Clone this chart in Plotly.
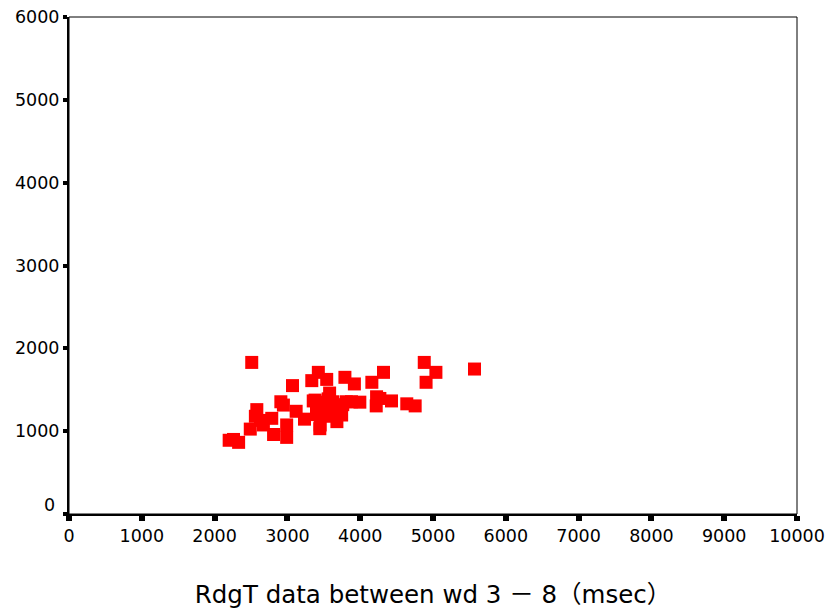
import plotly.graph_objects as go

rdgt_x = [2510, 2200, 2330, 2260, 2490, 2580, 2560, 2630, 2670, 2785, 2810, 2910, 2945,
          2990, 2990, 3070, 3120, 3235, 3335, 3425, 3540, 3790, 3920, 4160, 4320, 4880,
          5040, 4905, 5570, 3380, 3355, 3400, 3400, 3450, 3445, 3580, 3585, 3625, 3680,
          3745, 3810, 3995, 3520, 3560, 3700, 3480, 3650, 3550, 4225, 4270, 4220, 4430,
          4640, 4755, 3760, 3880]
val_y = [1830, 890, 865, 900, 1025, 1260, 1180, 1130, 1075, 1155, 960, 1355, 1315,
         1075, 925, 1550, 1240, 1145, 1610, 1710, 1625, 1650, 1570, 1590, 1710, 1830,
         1710, 1590, 1750, 1375, 1365, 1240, 1200, 1075, 1030, 1460, 1255, 1355, 1115,
         1195, 1355, 1350, 1300, 1390, 1280, 1350, 1230, 1180, 1415, 1395, 1305, 1365,
         1330, 1305, 1320, 1355]

x_ticks = [0, 1000, 2000, 3000, 4000, 5000, 6000, 7000, 8000, 9000, 10000]
y_ticks = [1000, 2000, 3000, 4000, 5000, 6000]
x_title = "RdgT data between wd 3 － 8（msec）"

fig = go.Figure()
fig.add_trace(go.Scatter(
    x=rdgt_x, y=val_y, mode="markers",
    marker=dict(symbol="square", size=13, color="#FF0000", line=dict(width=0)),
    showlegend=False, cliponaxis=False,
))

tick_font = dict(family="DejaVu Sans, sans-serif", size=17.5, color="black")

fig.update_xaxes(
    range=[0, 10000], tickvals=x_ticks, ticktext=[str(v) for v in x_ticks],
    showgrid=False, zeroline=False, showline=True, linecolor="black", linewidth=2,
    ticks="outside", ticklen=5, tickwidth=6, tickcolor="black", tickfont=tick_font,
    automargin=False,
    title=dict(text=x_title,
               font=dict(family="DejaVu Sans, Noto Sans CJK JP, sans-serif", size=24.5, color="black"),
               standoff=42),
)
fig.update_yaxes(
    range=[0, 6000], tickvals=[0] + y_ticks, ticktext=[""] + [str(v) for v in y_ticks],
    showgrid=False, zeroline=False, showline=True, linecolor="black", linewidth=2,
    ticks="outside", ticklen=4, tickwidth=4, tickcolor="black", tickfont=tick_font,
    automargin=False,
)

fig.add_annotation(x=0, y=0, xref="paper", yref="y", text="0", showarrow=False,
                   xanchor="right", yanchor="middle", xshift=-12, yshift=9, font=tick_font)

fig.add_shape(type="rect", xref="paper", yref="paper", x0=0, y0=0, x1=1, y1=1,
              line=dict(color="black", width=1), layer="above")

fig.update_layout(
    width=827, height=609,
    margin=dict(l=69, r=30, t=17, b=95),
    paper_bgcolor="white", plot_bgcolor="white",
)

fig.write_html("out.html")
